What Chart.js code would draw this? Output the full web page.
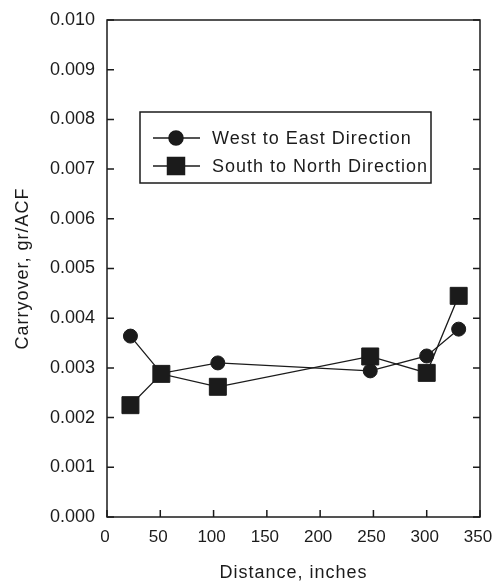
<!DOCTYPE html>
<html>
<head>
<meta charset="utf-8">
<script src="https://cdn.jsdelivr.net/npm/chart.js@4.4.1/dist/chart.umd.min.js"></script>
<style>
  html, body { margin: 0; padding: 0; background: #fff; }
  #wrap { width: 493px; height: 584px; position: relative; }
</style>
</head>
<body>
<div id="wrap"><canvas id="carryoverChart"></canvas></div>
<script>
// distances along the duct, inches
const distance = [22, 51, 104, 247, 300, 330];
// carryover, gr/ACF
const westEast = [0.00364, 0.00289, 0.00310, 0.00294, 0.00324, 0.00378];
const southNorth = [0.00225, 0.00288, 0.00262, 0.00323, 0.00290, 0.00445];
const seriesNames = ['West to East Direction', 'South to North Direction'];
const xTicks = [0, 50, 100, 150, 200, 250, 300, 350];
const yTicks = [0, 0.001, 0.002, 0.003, 0.004, 0.005, 0.006, 0.007, 0.008, 0.009, 0.010];

const ink = '#1b1b1b';
const fontFamily = '"Liberation Sans", Arial, sans-serif';

function toPoints(xs, ys) {
  return xs.map((x, i) => ({ x: x, y: ys[i] }));
}

// the original titles are set a bit wider, so space their letters out
function widenTitle(scale) {
  if (scale._widened) return;
  const orig = scale.drawTitle.bind(scale);
  scale.drawTitle = function () {
    const c = this.ctx;
    const prev = c.letterSpacing;
    c.letterSpacing = '1px';
    orig();
    c.letterSpacing = prev;
  };
  scale._widened = true;
}

// box round the plot, inward ticks and the legend inside the plot
const framePlugin = {
  id: 'frame',
  afterLayout(chart) {
    widenTitle(chart.scales.x);
    widenTitle(chart.scales.y);
  },
  afterDraw(chart) {
    const ctx = chart.ctx;
    const a = chart.chartArea;
    const xs = chart.scales.x;
    const ys = chart.scales.y;
    const tick = 7;
    ctx.save();
    ctx.strokeStyle = ink;
    ctx.lineWidth = 1.5;
    ctx.strokeRect(a.left, a.top, a.right - a.left, a.bottom - a.top);
    ctx.beginPath();
    xTicks.forEach(v => {
      const px = xs.getPixelForValue(v);
      ctx.moveTo(px, a.bottom);
      ctx.lineTo(px, a.bottom - tick);
    });
    yTicks.forEach(v => {
      const py = ys.getPixelForValue(v);
      ctx.moveTo(a.left, py);
      ctx.lineTo(a.left + tick, py);
      ctx.moveTo(a.right, py);
      ctx.lineTo(a.right - tick, py);
    });
    ctx.stroke();

    // legend
    const bx = 140, by = 112, bw = 291, bh = 71;
    ctx.lineWidth = 1.5;
    ctx.strokeRect(bx, by, bw, bh);
    const rows = [138, 166];
    ctx.font = '18px ' + fontFamily;
    ctx.letterSpacing = '1px';
    ctx.textBaseline = 'middle';
    ctx.textAlign = 'left';
    ctx.fillStyle = ink;
    chart.data.datasets.forEach((ds, i) => {
      const y = rows[i];
      ctx.beginPath();
      ctx.lineWidth = 1.5;
      ctx.moveTo(153, y);
      ctx.lineTo(200, y);
      ctx.stroke();
      Chart.helpers.drawPoint(ctx, {
        pointStyle: ds.pointStyle,
        radius: ds.pointRadius,
        rotation: 0,
        borderWidth: 1
      }, 176, y);
      ctx.fill();
      ctx.fillStyle = ink;
      ctx.fillText(ds.label, 212, y + 1);
    });
    ctx.restore();
  }
};

const ctx = document.getElementById('carryoverChart').getContext('2d');
const carryoverChart = new Chart(ctx, {
  type: 'line',
  data: {
    datasets: [
      {
        label: seriesNames[0],
        data: toPoints(distance, westEast),
        borderColor: ink,
        backgroundColor: ink,
        borderWidth: 1.3,
        pointStyle: 'circle',
        pointRadius: 7,
        pointBorderWidth: 1,
        tension: 0,
        order: 1
      },
      {
        label: seriesNames[1],
        data: toPoints(distance, southNorth),
        borderColor: ink,
        backgroundColor: ink,
        borderWidth: 1.3,
        pointStyle: 'rect',
        pointRadius: 12,
        pointBorderWidth: 1,
        tension: 0,
        order: 0
      }
    ]
  },
  options: {
    responsive: true,
    maintainAspectRatio: false,
    animation: false,
    layout: { padding: { top: 20, right: 13, left: 0, bottom: 0 } },
    plugins: {
      legend: { display: false },
      tooltip: { enabled: false }
    },
    scales: {
      x: {
        type: 'linear',
        min: 0,
        max: 350,
        afterFit: s => { s.height = 67; s.paddingLeft = 0; s.paddingRight = 0; },
        afterBuildTicks: s => { s.ticks = xTicks.map(v => ({ value: v })); },
        ticks: {
          color: ink,
          font: { family: fontFamily, size: 17 },
          padding: 10,
          labelOffset: -2,
          maxRotation: 0
        },
        grid: { display: false, drawTicks: false },
        border: { display: false },
        title: {
          display: true,
          text: 'Distance, inches',
          color: ink,
          font: { family: fontFamily, size: 18 },
          padding: { top: 0, bottom: 0 }
        }
      },
      y: {
        type: 'linear',
        min: 0,
        max: 0.010,
        afterFit: s => { s.width = 107; s.paddingTop = 0; s.paddingBottom = 0; },
        afterBuildTicks: s => { s.ticks = yTicks.map(v => ({ value: v })); },
        ticks: {
          color: ink,
          font: { family: fontFamily, size: 18 },
          padding: 12,
          callback: v => v.toFixed(3)
        },
        grid: { display: false, drawTicks: false },
        border: { display: false },
        title: {
          display: true,
          text: 'Carryover, gr/ACF',
          color: ink,
          font: { family: fontFamily, size: 18 },
          padding: { top: 12, bottom: 0 }
        }
      }
    }
  },
  plugins: [framePlugin]
});
</script>
</body>
</html>
